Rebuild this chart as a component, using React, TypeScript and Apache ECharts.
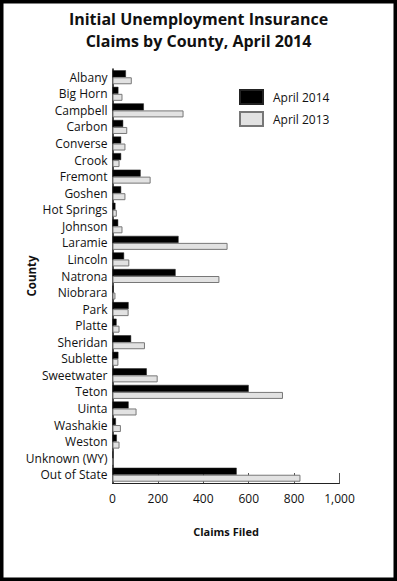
import React, { useEffect, useRef } from "react";
import * as echarts from "echarts";

const counties = [
  "Albany", "Big Horn", "Campbell", "Carbon", "Converse", "Crook", "Fremont", "Goshen",
  "Hot Springs", "Johnson", "Laramie", "Lincoln", "Natrona", "Niobrara", "Park", "Platte",
  "Sheridan", "Sublette", "Sweetwater", "Teton", "Uinta", "Washakie", "Weston",
  "Unknown (WY)", "Out of State",
];
const april2014 = [59, 26, 138, 47, 38, 38, 124, 38, 13, 25, 291, 51, 278, 4, 71, 18, 82, 26, 151, 600, 71, 15, 19, 2, 547];
const april2013 = [85, 44, 313, 65, 57, 31, 168, 57, 19, 44, 507, 74, 471, 13, 71, 31, 143, 26, 199, 751, 106, 37, 31, 3, 828];
const xTicks = [0, 200, 400, 600, 800, 1000];

const FONT = "'Open Sans', sans-serif";

export default function App() {
  const ref = useRef<HTMLDivElement>(null);
  useEffect(() => {
    document.body.style.margin = "0";
    const chart = echarts.init(ref.current!, null, { renderer: "svg" });
    chart.setOption({
      animation: false,
      textStyle: { fontFamily: FONT },
      title: {
        text: "Initial Unemployment Insurance\nClaims by County, April 2014",
        left: "center",
        top: 3,
        textStyle: { fontFamily: FONT, fontWeight: "bold", fontSize: 16, lineHeight: 22, color: "#111" },
      },
      legend: {
        orient: "vertical",
        left: 239,
        top: 89,
        padding: 0,
        itemWidth: 23,
        itemHeight: 14,
        itemGap: 6,
        icon: "rect",
        textStyle: { fontFamily: FONT, fontSize: 12, color: "#111", padding: [0, 0, 0, 5] },
        data: ["April 2014", "April 2013"],
      },
      grid: {
        left: 112.5,
        width: 227,
        top: 69,
        height: 414,
        containLabel: false,
        outerBoundsMode: "none",
      },
      xAxis: {
        type: "value",
        min: xTicks[0],
        max: xTicks[xTicks.length - 1],
        interval: 200,
        name: "Claims Filed",
        nameLocation: "middle",
        nameGap: 43,
        nameMoveOverlap: false,
        nameTextStyle: { fontFamily: FONT, fontWeight: "bold", fontSize: 11, color: "#111" },
        axisLine: { show: true, lineStyle: { color: "#222", width: 1 } },
        axisTick: { show: true, inside: true, length: 10, lineStyle: { color: "#555" } },
        splitLine: { show: false },
        axisLabel: {
          fontFamily: FONT,
          fontSize: 12,
          color: "#111",
          margin: 9,
          formatter: (v: number) => v.toLocaleString("en-US"),
        },
      },
      yAxis: {
        type: "category",
        data: counties,
        inverse: true,
        name: "County",
        nameLocation: "middle",
        nameGap: 75,
        nameMoveOverlap: false,
        nameRotate: 90,
        nameTextStyle: { fontFamily: FONT, fontWeight: "bold", fontSize: 11.5, color: "#111" },
        axisLine: { show: true, lineStyle: { color: "#111", width: 1.5 } },
        axisTick: { show: false },
        axisLabel: { fontFamily: FONT, fontSize: 12, color: "#111", margin: 5 },
      },
      series: [
        {
          name: "April 2014",
          type: "bar",
          data: april2014,
          barWidth: 7,
          barGap: "0%",
          itemStyle: { color: "#000", borderColor: "#222", borderWidth: 0.5 },
        },
        {
          name: "April 2013",
          type: "bar",
          data: april2013,
          barWidth: 7,
          barGap: "0%",
          itemStyle: { color: "#e2e2e2", borderColor: "#777", borderWidth: 1 },
        },
      ],
      graphic: [
        {
          type: "rect",
          shape: { x: 1.75, y: 1.75, width: 393.5, height: 577.5 },
          style: { fill: "none", stroke: "#000", lineWidth: 3.5 },
          silent: true,
        },
      ],
    });
    return () => chart.dispose();
  }, []);
  return (
    <div
      ref={ref}
      style={{ position: "absolute", left: 0, top: 0, width: 397, height: 581, background: "#fff" }}
    />
  );
}
